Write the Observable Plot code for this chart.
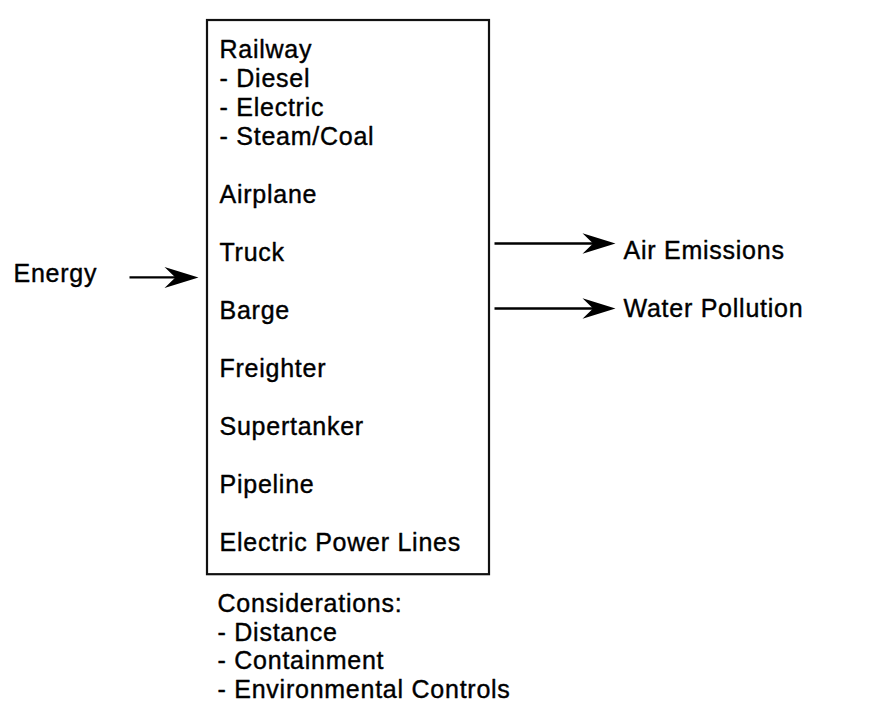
<!DOCTYPE html>
<html>
<head>
<meta charset="utf-8">
<script src="https://cdn.jsdelivr.net/npm/d3@7"></script>
<script src="https://cdn.jsdelivr.net/npm/@observablehq/plot@0.6"></script>
<style>
  html, body { margin: 0; padding: 0; background: #fff; }
  #chart svg { display: block; }
</style>
</head>
<body>
<div id="chart"></div>
<script>
// ---- data ----
const inputs = ["Energy"];
const modes = ["Railway", "- Diesel", "- Electric", "- Steam/Coal", "Airplane", "Truck", "Barge",
               "Freighter", "Supertanker", "Pipeline", "Electric Power Lines"];
const modeRows = [0, 1, 2, 3, 5, 7, 9, 11, 13, 15, 17];           // line slots in the list
const outputs = ["Air Emissions", "Water Pollution"];
const outputRows = [6.38, 8.62];                                   // line slots of the outgoing arrows
const outputLabelRows = [6.9, 8.9];                                // line slots of their labels
const considerations = ["Considerations:", "- Distance", "- Containment", "- Environmental Controls"];
const considerationRows = [19.1, 20.1, 21.05, 22.05];

// ---- layout (diagram units: x in columns, y in line slots) ----
const boxLeft = 207, boxRight = 489, boxTopRow = -1.31, boxBottomRow = 17.8;
const textLeft = 219;
const inputRow = 7.55;

const modeData = modes.map((m, i) => ({label: m, row: modeRows[i]}));
const outData = outputs.map((o, i) => ({label: o, row: outputRows[i], labelRow: outputLabelRows[i]}));
const consData = considerations.map((c, i) => ({label: c, row: considerationRows[i]}));
const inData = inputs.map(l => ({label: l, row: inputRow}));

// dart-shaped arrowhead symbol, tip at the dot's position, pointing right
const dart = {
  draw(context, size) {
    const L = Math.sqrt(size / Math.PI), W = L * 0.31;
    context.moveTo(0, 0);
    context.lineTo(-L, -W);
    context.lineTo(-L * 0.68, 0);
    context.lineTo(-L, W);
    context.closePath();
  }
};

const font = {fontSize: 25, fill: "#000", stroke: "#000", strokeWidth: 0.4,
  fontFamily: "Liberation Sans", textAnchor: "start", lineAnchor: "bottom"};

const chart = Plot.plot({
  width: 871,
  height: 706,
  margin: 0,
  x: {domain: [0, 871], range: [0, 871], axis: null},
  y: {domain: [-2, 22.345], range: [0, 706], axis: null},
  style: {fontFamily: "'Liberation Sans', Arial, sans-serif", letterSpacing: "0.75px", background: "#fff"},
  marks: [
    Plot.rect([{}], {x1: boxLeft, x2: boxRight, y1: boxTopRow, y2: boxBottomRow,
      fill: "none", stroke: "#111", strokeWidth: 2.2}),
    Plot.text(modeData, {x: textLeft, y: d => d.row, text: "label", ...font}),
    Plot.text(consData, {x: 217, y: d => d.row, text: "label", ...font}),
    Plot.text(inData, {x: 13, y: d => d.row + 0.17, text: "label", ...font}),
    // input arrow
    Plot.link(inData, {x1: 129, x2: 180, y1: "row", y2: "row", stroke: "#000", strokeWidth: 2.2}),
    Plot.dot(inData, {x: 198, y: "row", symbol: dart, r: 34, fill: "#000", stroke: "none"}),
    // output arrows
    Plot.link(outData, {x1: 494, x2: 595, y1: "row", y2: "row", stroke: "#000", strokeWidth: 2.4}),
    Plot.dot(outData, {x: 615, y: "row", symbol: dart, r: 33, fill: "#000", stroke: "none"}),
    Plot.text(outData, {x: 623, y: "labelRow", text: "label", ...font})
  ]
});
document.getElementById("chart").appendChild(chart);
</script>
</body>
</html>
